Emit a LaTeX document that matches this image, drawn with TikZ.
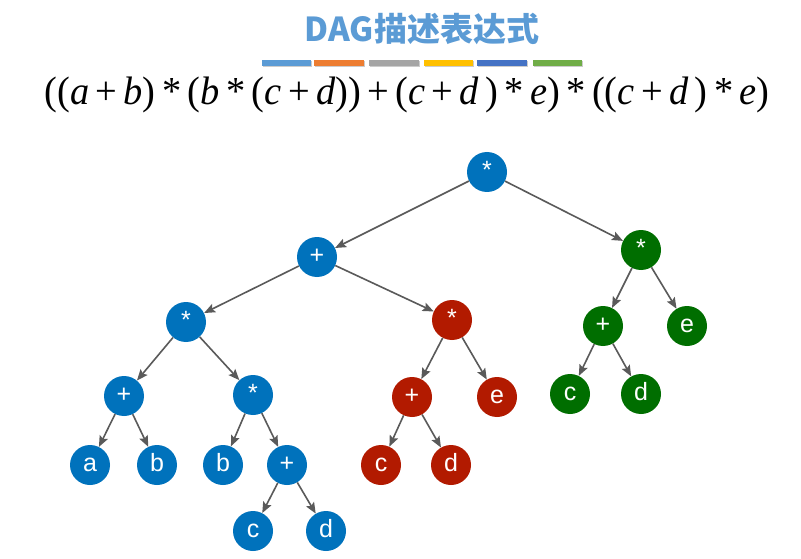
\documentclass[tikz,border=0pt]{standalone}
\usepackage{fontspec}
\usepackage{graphicx}
\setmainfont{Liberation Sans}
\newfontfamily\cjk{Noto Sans CJK SC}
\newfontfamily\tnr{Liberation Serif}
\usetikzlibrary{arrows.meta}
\definecolor{nblue}{HTML}{0072BC}
\definecolor{nred}{HTML}{B21A00}
\definecolor{ngreen}{HTML}{006E00}
\definecolor{egray}{HTML}{5A5A5A}
\definecolor{tblue}{HTML}{5B9BD5}
\definecolor{c1}{HTML}{5B9BD5}
\definecolor{c2}{HTML}{ED7D31}
\definecolor{c3}{HTML}{A5A5A5}
\definecolor{c4}{HTML}{FFC000}
\definecolor{c5}{HTML}{4472C4}
\definecolor{c6}{HTML}{70AD47}
\newcommand{\iv}[1]{\textit{#1}}
\begin{document}
\begin{tikzpicture}[x=1pt,y=-1pt,
  nd/.style={circle, minimum size=40pt, inner sep=0pt, text=white,
    font=\fontsize{25}{25}\selectfont, text height=13pt, text depth=0pt},
  bn/.style={nd, fill=nblue},
  rn/.style={nd, fill=nred},
  gn/.style={nd, fill=ngreen},
  edge/.style={draw=egray, line width=1.6pt, -{Stealth[length=11pt,width=9pt,inset=2pt]}},
  bar/.style={inner sep=0pt, minimum height=6pt}]
\fill[white] (0,0) rectangle (801,559);
\useasboundingbox (0,0) rectangle (801,559);
% title
\node[text=tblue, font=\cjk\bfseries\fontsize{33}{33}\selectfont] (title) at (422,29) {DAG描述表达式};
% color bars
\foreach \xa/\xb/\cc [count=\i] in {262/311/c1,314/364/c2,369/419/c3,424/473/c4,477/527/c5,533/582/c6}{
  \fill[black!20] (\xa+1,61.5) rectangle (\xb+1,67.5);
  \fill[\cc] (\xa,60) rectangle (\xb,66);
}
% expression
\node[inner sep=0pt] (expr) at (407,95) {\resizebox*{725pt}{36pt}{\tnr ((\iv{a}\,+\,\iv{b})\,*\,(\iv{b}\,*\,(\iv{c}\,+\,\iv{d}))\,+\,(\iv{c}\,+\,\iv{d}\,)\,*\,\iv{e})\,*\,((\iv{c}\,+\,\iv{d}\,)\,*\,\iv{e})}};
% nodes
\node[bn] (root) at (487,172) {*};
\node[bn] (p1) at (317,257) {+};
\node[gn] (g1) at (641,250) {*};
\node[bn] (m1) at (186,322) {*};
\node[rn] (r1) at (452,320) {*};
\node[gn] (g2) at (603,326) {+};
\node[gn] (ge) at (687,326) {e};
\node[bn] (ab) at (124,396) {+};
\node[bn] (m2) at (253,395) {*};
\node[rn] (r2) at (412,397) {+};
\node[rn] (re) at (497,397) {e};
\node[gn] (gc) at (570,394) {c};
\node[gn] (gd) at (641,394) {d};
\node[bn] (a) at (90,465) {a};
\node[bn] (b1) at (157,465) {b};
\node[bn] (b2) at (223,465) {b};
\node[bn] (cd) at (287,465) {+};
\node[rn] (rc) at (381,465) {c};
\node[rn] (rd) at (451,465) {d};
\node[bn] (c1n) at (253,531) {c};
\node[bn] (d1n) at (326,531) {d};
% edges
\foreach \u/\v in {root/p1,root/g1,p1/m1,p1/r1,m1/ab,m1/m2,ab/a,ab/b1,m2/b2,m2/cd,cd/c1n,cd/d1n,r1/r2,r1/re,r2/rc,r2/rd,g1/g2,g1/ge,g2/gc,g2/gd}
  \draw[edge] (\u) -- (\v);
\end{tikzpicture}
\end{document}
